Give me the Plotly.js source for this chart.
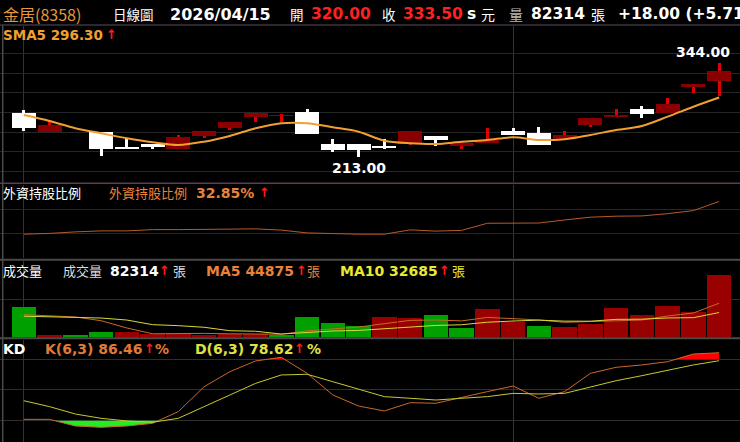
<!DOCTYPE html>
<html><head><meta charset="utf-8">
<script src="https://cdn.plot.ly/plotly-3.0.1.min.js"></script>
<style>html,body{margin:0;padding:0;background:#000;overflow:hidden}#chart{width:740px;height:442px}</style>
</head><body><div id="chart"></div>
<script>
// ---------- data ----------
const dates = ['2026/03/05','2026/03/06','2026/03/09','2026/03/10','2026/03/11','2026/03/12','2026/03/13','2026/03/16','2026/03/17','2026/03/18','2026/03/19','2026/03/20','2026/03/23','2026/03/24','2026/03/25','2026/03/26','2026/03/27','2026/03/30','2026/03/31','2026/04/01','2026/04/02','2026/04/07','2026/04/08','2026/04/09','2026/04/10','2026/04/13','2026/04/14','2026/04/15'];
const openP  = [274.5,248,232.5,248,227.7,231,224.5,243,254.2,269.6,270.5,275.7,231,231,229,232.5,243,228.7,232.5,250,246.4,238,258,268.7,280,275,310.5,320];
const highP  = [279,264,232.5,248,238,231,244,250,262.6,274.3,273.3,280,238,231,238,250,243,236,253.4,253.4,255.6,250,267.3,280,284.5,295,315.5,344];
const lowP   = [249.5,248,232.5,215,224.5,224.5,224.5,239.5,251,261.8,262.6,245.4,220.8,213,224,230,229,224.5,232.5,243.6,230,238,255.6,268.7,267.3,275,302,299];
const closeP = [253.5,257.5,232.5,224,224.5,227.7,241.7,250,262.6,274.3,271,245.4,223.5,222.8,226.4,250,237,233.3,237,243.6,230,244,267.3,272,273.3,287.3,315.5,333.5];
const prevClose = 262;
const sma5   = [271.9,263.6,253.4,246.4,239.5,233.9,230.1,234.7,242.7,253.4,260.4,260.4,254.8,248.6,236.1,232.5,231.5,234.7,237.1,240.8,237.1,238.1,244.1,251,256.6,269.6,283.5,296.3];
const foreignPct = [31.56,31.59,31.65,31.69,31.69,31.74,31.74,31.74,31.76,31.77,31.72,31.61,31.57,31.56,31.56,31.73,31.68,31.71,31.99,31.99,32.00,32.12,32.23,32.27,32.28,32.37,32.49,32.85];
const volume = [40000,2900,2900,7200,6800,4600,4600,3700,4600,4600,3700,26900,18600,14700,26500,25500,29500,12400,37700,20300,15100,13800,18100,38600,29100,41300,33400,82314];
const volMA5  = [29900,28600,26900,22000,12500,4880,5220,5380,4860,4420,4240,8700,11680,13700,18080,22440,22960,21720,26320,25080,23000,19860,21000,21180,22940,28180,32100,44875];
const volMA10 = [27900,26900,26500,25500,22900,16800,15500,13400,8900,8190,4560,6960,8530,9280,11250,13340,15830,16700,20010,21580,22720,21410,21360,23750,24010,25590,25980,32685];
const kVal = [21.3,21.3,14.8,13.5,14.8,17.4,28.8,53.2,67.9,78.4,82.0,66.3,45.1,34.3,29.5,37.6,37.0,42.9,48.4,53.9,41.9,48.4,66.3,72.2,74.5,77.7,85.2,86.46];
const dVal = [39.5,33.7,26.5,22.3,19.7,18.4,22.3,33.7,45.1,56.5,64.7,65.4,58.1,50.6,43.5,41.9,40.2,41.9,43.5,46.7,46.1,46.7,53.2,59.1,64.0,68.9,74.5,78.62];
const monthStarts = ['2026/03/05','2026/04/01'];

// ---------- helpers ----------
const idx = dates.map((d,i)=>i);
const n = dates.length;
const UP_BODY='#8a0000', UP_WICK='#e00000', DN='#ffffff', FLAT='#9a9a9a';
const bodyBase = openP.map((o,i)=>Math.min(o,closeP[i]));
const bodyH = openP.map((o,i)=>Math.max(Math.abs(closeP[i]-o),0.9));
const bodyCol = openP.map((o,i)=>closeP[i]>o?UP_BODY:(closeP[i]<o?DN:FLAT));
const wickCol = openP.map((o,i)=>closeP[i]>o?UP_WICK:(closeP[i]<o?DN:FLAT));
const wickH = highP.map((h,i)=>h-lowP[i]);
const volCol = closeP.map((c,i)=>{const p=i===0?prevClose:closeP[i-1];return c>=p?'#990000':'#00a000';});

function clip(ys,thr,below){
  const ox=[],oy=[];
  for(let i=0;i<ys.length;i++){
    if(i>0){const a=ys[i-1]-thr,b=ys[i]-thr;if(a*b<0){const t=a/(a-b);ox.push(i-1+t);oy.push(thr);}}
    ox.push(i);oy.push(below?Math.min(ys[i],thr):Math.max(ys[i],thr));
  }
  return {x:ox,y:oy};
}
const kLow = clip(kVal,20,true), kHigh = clip(kVal,80,false);

const traces = [
  {type:'bar',x:idx,y:wickH,base:lowP,width:0.12,marker:{color:wickCol,line:{width:0}},xaxis:'x',yaxis:'y',hoverinfo:'skip'},
  {type:'bar',x:idx,y:bodyH,base:bodyBase,width:0.93,marker:{color:bodyCol,line:{width:0}},xaxis:'x',yaxis:'y',hoverinfo:'skip'},
  {type:'scatter',mode:'lines',x:idx,y:sma5,line:{color:'#f0a030',width:2,shape:'spline',smoothing:0.9},xaxis:'x',yaxis:'y'},
  {type:'scatter',mode:'lines',x:idx,y:foreignPct,line:{color:'#b85a28',width:1},xaxis:'x',yaxis:'y2'},
  {type:'bar',x:idx,y:volume,width:0.95,marker:{color:volCol,line:{width:0}},xaxis:'x',yaxis:'y3',hoverinfo:'skip'},
  {type:'scatter',mode:'lines',x:idx,y:volMA5,line:{color:'#c86a28',width:1},xaxis:'x',yaxis:'y3'},
  {type:'scatter',mode:'lines',x:idx,y:volMA10,line:{color:'#d8d838',width:1},xaxis:'x',yaxis:'y3'},
  {type:'scatter',mode:'lines',x:[0,n-1],y:[20,20],line:{width:0},xaxis:'x',yaxis:'y4',hoverinfo:'skip'},
  {type:'scatter',mode:'lines',x:kLow.x,y:kLow.y,line:{width:0},fill:'tonexty',fillcolor:'#22ee22',xaxis:'x',yaxis:'y4',hoverinfo:'skip'},
  {type:'scatter',mode:'lines',x:[0,n-1],y:[80,80],line:{width:0},xaxis:'x',yaxis:'y4',hoverinfo:'skip'},
  {type:'scatter',mode:'lines',x:kHigh.x,y:kHigh.y,line:{width:0},fill:'tonexty',fillcolor:'#ff0000',xaxis:'x',yaxis:'y4',hoverinfo:'skip'},
  {type:'scatter',mode:'lines',x:idx,y:kVal,line:{color:'#c8682a',width:1},xaxis:'x',yaxis:'y4'},
  {type:'scatter',mode:'lines',x:idx,y:dVal,line:{color:'#c8c830',width:1},xaxis:'x',yaxis:'y4'}
];

const W=740,H=442;
const fy = py => 1-py/H;
const NUM='DejaVu Sans, Noto Sans CJK TC', CJK='Noto Sans CJK TC, DejaVu Sans';
function lab(text,px,py,color,size,fam){
  return {text:text,xref:'paper',yref:'paper',x:px/W,y:fy(py),xanchor:'left',yanchor:'middle',showarrow:false,
    font:{family:fam||NUM,size:size,color:color},borderpad:0};
}
const RED='#ff1a1a', ORG='#e8823a', YEL='#e8e830';
const hi = highP.indexOf(Math.max(...highP)), lo = lowP.indexOf(Math.min(...lowP));
const annotations = [
  lab('金居(8358)',2,14,'#e8963a',16,CJK),
  lab('日線圖',112,14,'#ffffff',13.5,CJK),
  lab('<b>2026/04/15</b>',169,14,'#ffffff',16),
  lab('開',289,14,'#ffffff',13.5,CJK),
  lab('<b>320.00</b>',310,14,'#ff2020',15.5),
  lab('收',381,14,'#ffffff',13.5,CJK),
  lab('<b>333.50</b>',402,14,'#ff2020',15.5),
  lab('<b>s</b>',466,14,'#ffffff',15.5),
  lab('元',480,14,'#ffffff',14,CJK),
  lab('量',508,14,'#b8b8b8',14,CJK),
  lab('<b>82314</b>',530,14,'#ffffff',15.5),
  lab('張',590,14,'#ffffff',14,CJK),
  lab('<b>+18.00 (+5.71%)</b>',617,14,'#ffffff',15.5),
  lab('<b>SMA5 296.30</b>',2,35,'#f0a030',13.5),
  lab('<b>↑</b>',104.5,35,RED,13),
  lab('外資持股比例',2,192.5,'#ffffff',13,CJK),
  lab('外資持股比例',108,192.5,ORG,13,CJK),
  lab('<b>32.85%</b>',195,192.5,ORG,14),
  lab('<b>↑</b>',257.5,192.5,RED,13),
  lab('成交量',2,270.5,'#ffffff',13,CJK),
  lab('成交量',62,270.5,'#dddddd',13,CJK),
  lab('<b>82314</b>',109,270.5,'#ffffff',14),
  lab('<b>↑</b>',158,270.5,RED,13),
  lab('張',172,270.5,'#dddddd',13,CJK),
  lab('<b>MA5 44875</b>',205,270.5,ORG,14),
  lab('<b>↑</b>',294.5,270.5,RED,13),
  lab('張',306,270.5,ORG,13,CJK),
  lab('<b>MA10 32685</b>',339,270.5,YEL,14),
  lab('<b>↑</b>',438,270.5,RED,13),
  lab('張',451,270.5,YEL,13,CJK),
  lab('<b>KD</b>',2,348.5,'#ffffff',14),
  lab('<b>K(6,3) 86.46</b>',44,348.5,'#e07a35',14),
  lab('<b>↑</b>',143,348.5,RED,13),
  lab('<b>%</b>',154,348.5,'#e07a35',14),
  lab('<b>D(6,3) 78.62</b>',194,348.5,'#e0e040',14),
  lab('<b>↑</b>',293,348.5,RED,13),
  lab('<b>%</b>',306,348.5,'#e0e040',14),
  {text:'<b>'+highP[hi].toFixed(2)+'</b>',xref:'x',yref:'y',x:hi+0.48,y:highP[hi],xanchor:'right',yanchor:'bottom',yshift:1,showarrow:false,font:{family:NUM,size:14,color:'#ffffff'}},
  {text:'<b>'+lowP[lo].toFixed(2)+'</b>',xref:'x',yref:'y',x:lo,y:lowP[lo],xanchor:'center',yanchor:'top',yshift:-1,showarrow:false,font:{family:NUM,size:14,color:'#ffffff'}}
];

function hline(py,color,w){return {type:'line',xref:'paper',yref:'paper',x0:0,x1:1,y0:fy(py),y1:fy(py),line:{color:color,width:w}};}
const shapes = [
  hline(25,'#3d3440',1.5),
  hline(183.3,'#5a3f52',1.5),
  hline(259.8,'#4a4a4a',2),
  hline(338.3,'#4a4a4a',2),
  {type:'line',xref:'paper',yref:'paper',x0:2.7/W,x1:2.7/W,y0:0,y1:fy(25),line:{color:'#4a4a4a',width:1.5}}
];

const yBase = {showticklabels:false,zeroline:false,showline:false,ticks:'',fixedrange:true,gridwidth:1};
const mainTicks=[192.9,220.4,247.9,275.4,302.9,330.4,357.9];
const layout = {
  width:W,height:H,margin:{l:0,r:0,t:0,b:0},paper_bgcolor:'#000',plot_bgcolor:'#000',
  showlegend:false,barmode:'overlay',bargap:0,hovermode:false,
  xaxis:{type:'linear',range:[-0.924,27.81],tickvals:monthStarts.map(d=>dates.indexOf(d)),ticktext:monthStarts,
    showticklabels:false,showgrid:true,gridcolor:'#333333',gridwidth:1,zeroline:false,showline:false,ticks:'',anchor:'y4',fixedrange:true},
  yaxis:Object.assign({},yBase,{domain:[fy(182),fy(26)],range:[178.5,396],tickvals:mainTicks,gridcolor:'#262626'}),
  yaxis2:Object.assign({},yBase,{domain:[fy(258),fy(184.5)],range:[30.62,33.52],tickvals:[31.586,32.546],gridcolor:'#262626'}),
  yaxis3:Object.assign({},yBase,{domain:[fy(337.5),fy(261)],range:[0,100200],tickvals:[50000],gridcolor:'#2a2a2a'}),
  yaxis4:Object.assign({},yBase,{domain:[0,fy(339.5)],range:[-0.88,99.4],tickvals:[20,50,80],gridcolor:'#2e2e2e'}),
  annotations:annotations,shapes:shapes
};
Plotly.newPlot('chart',traces,layout,{staticPlot:true,displayModeBar:false});
</script></body></html>
